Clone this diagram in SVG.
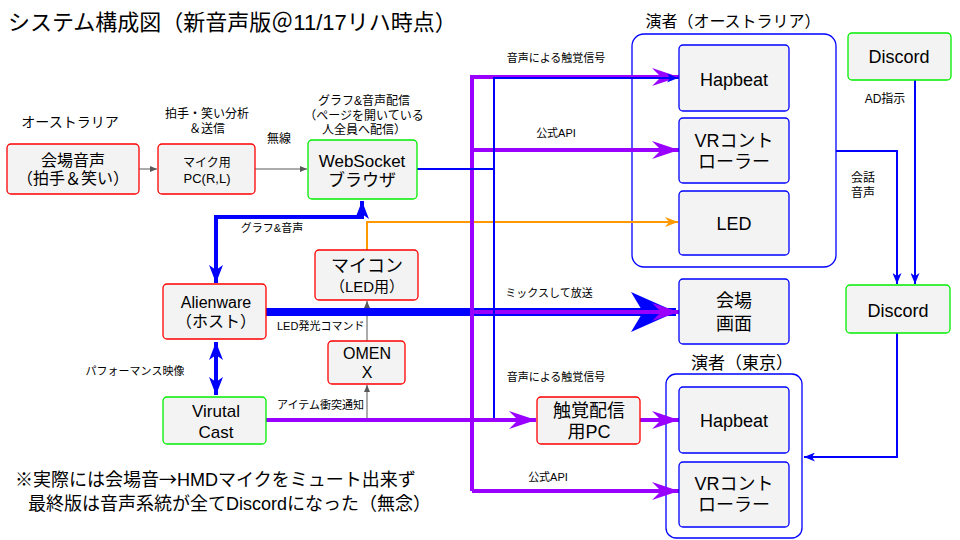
<svg xmlns="http://www.w3.org/2000/svg" width="960" height="540" viewBox="0 0 960 540">
<style>
text{font-family:"Liberation Sans","Noto Sans CJK JP",sans-serif;fill:#000;text-anchor:middle}
.cjk{font-family:"Noto Sans CJK JP",sans-serif}
.nr{fill:#f3f3f3;stroke:#ff0000;stroke-width:1.3}
.ng{fill:#f3f3f3;stroke:#00ee00;stroke-width:1.3}
.nb{fill:#f3f3f3;stroke:#0000ff;stroke-width:1.3}
.grp{fill:#fff;stroke:#0000ff;stroke-width:1.3}
.lbl{font-size:11px}
.lt{text-anchor:start}
.gray{fill:none;stroke:#595959;stroke-width:1}
.pur{fill:none;stroke:#9900ff;stroke-width:4}
.bt{fill:none;stroke:#0000ff;stroke-width:2}
.bk{fill:none;stroke:#0000ff;stroke-width:4}
.org{fill:none;stroke:#ff9900;stroke-width:2}
</style>
<defs>
<marker id="mg" markerUnits="userSpaceOnUse" markerWidth="8" markerHeight="6" refX="7" refY="3" orient="auto"><path d="M0,0 L7,3 L0,6 z" fill="#595959"/></marker>
<marker id="mp" markerUnits="userSpaceOnUse" markerWidth="28" markerHeight="18" refX="27" refY="9" orient="auto"><path d="M0,0 L27,9 L0,18 L9,9 z" fill="#9900ff"/></marker>
<marker id="mbt" markerUnits="userSpaceOnUse" markerWidth="12" markerHeight="9" refX="11" refY="4.5" orient="auto-start-reverse"><path d="M0,0 L11,4.5 L0,9 L3,4.5 z" fill="#0000ff"/></marker>
<marker id="mbk" markerUnits="userSpaceOnUse" markerWidth="19" markerHeight="14" refX="18" refY="7" orient="auto-start-reverse"><path d="M0,0 L18,7 L0,14 L5,7 z" fill="#0000ff"/></marker>
<marker id="mbig" markerUnits="userSpaceOnUse" markerWidth="46" markerHeight="40" refX="45" refY="20" orient="auto"><path d="M0,0 L45,20 L0,40 L12,20 z" fill="#0000ff"/></marker>
<marker id="mo" markerUnits="userSpaceOnUse" markerWidth="14" markerHeight="10" refX="13" refY="5" orient="auto"><path d="M0,0 L13,5 L0,10 L4,5 z" fill="#ff9900"/></marker>
</defs>

<text x="8" y="30" style="font-size:22px;text-anchor:start">システム構成図（新音声版＠11/17リハ時点）</text>

<!-- containers -->
<g id="performers-au">
<rect class="grp" x="632" y="34" width="204" height="233" rx="12"/>
<text x="733" y="27" style="font-size:16px">演者（オーストラリア）</text>
</g>
<g id="performers-tokyo">
<rect class="grp" x="666" y="374" width="136" height="164" rx="10"/>
<text x="742" y="369" style="font-size:17px">演者（東京）</text>
</g>

<!-- connectors -->
<g id="connectors">
<path class="gray" d="M139,169 H157" marker-end="url(#mg)"/>
<path class="gray" d="M255,169 H307" marker-end="url(#mg)"/>
<path class="gray" d="M367,420 V385" marker-end="url(#mg)"/>
<path class="gray" d="M367,341 V301" marker-end="url(#mg)"/>
<path class="org" d="M367,250 V222 H678" marker-end="url(#mo)"/>
<path class="bk" d="M362,201 V217 H216 V283" marker-start="url(#mbk)" marker-end="url(#mbk)"/>
<path class="bk" d="M216,342 V395" marker-start="url(#mbk)" marker-end="url(#mbk)"/>
<path d="M266,312 H676" fill="none" stroke="#0000ff" stroke-width="8" marker-end="url(#mbig)"/>
<path class="pur" d="M266,420 H536" marker-end="url(#mp)"/>
<path class="pur" d="M472,491 V77 H679" marker-end="url(#mp)"/>
<path class="pur" d="M472,150 H679" marker-end="url(#mp)"/>
<path class="pur" d="M472,312 H679" marker-end="url(#mp)"/>
<path class="pur" d="M472,491 H679" marker-end="url(#mp)"/>
<path class="pur" d="M640,420 H679" marker-end="url(#mp)"/>
<path class="bt" d="M417,169 H494 V418"/>
<path class="bt" d="M494,169 V78 H678" marker-end="url(#mbt)"/>
<path class="bt" d="M915,80 V284" marker-end="url(#mbt)"/>
<path class="bt" d="M836,151 H897 V284" marker-end="url(#mbt)"/>
<path class="bt" d="M897,333 V457 H804" marker-end="url(#mbt)"/>
</g>

<!-- labels -->
<text x="70" y="127" style="font-size:14px">オーストラリア</text>
<text x="207" y="118" style="font-size:12px">拍手・笑い分析</text>
<text x="207" y="133" style="font-size:12px">＆送信</text>
<text x="279" y="143" style="font-size:12px">無線</text>
<text x="364" y="105" style="font-size:12px">グラフ&amp;音声配信</text>
<text x="364" y="120" style="font-size:12px">（ページを開いている</text>
<text x="364" y="134" style="font-size:12px">人全員へ配信）</text>
<text class="lbl" x="272" y="232">グラフ&amp;音声</text>
<text class="lbl lt" x="277" y="330">LED発光コマンド</text>
<text class="lbl" x="135" y="375">パフォーマンス映像</text>
<text class="lbl lt" x="277" y="409">アイテム衝突通知</text>
<text class="lbl" x="556" y="62">音声による触覚信号</text>
<text class="lbl" x="556" y="137">公式API</text>
<text class="lbl" x="549" y="297">ミックスして放送</text>
<text class="lbl" x="556" y="381">音声による触覚信号</text>
<text class="lbl" x="548" y="481">公式API</text>
<text x="885" y="103" style="font-size:12px">AD指示</text>
<text x="851" y="182" style="font-size:12px;text-anchor:start">会話</text>
<text x="851" y="197" style="font-size:12px;text-anchor:start">音声</text>
<text x="15" y="486" style="font-size:18px;text-anchor:start">※実際には会場音<tspan class="cjk">→</tspan>HMDマイクをミュート出来ず</text>
<text x="28" y="510" style="font-size:18px;text-anchor:start">最終版は音声系統が全てDiscordになった（無念）</text>

<!-- nodes -->
<g id="venue-audio">
<rect class="nr" x="7" y="144" width="132" height="50" rx="4"/>
<text x="73" y="166" style="font-size:16px">会場音声</text>
<text x="73" y="184" style="font-size:16px">（拍手＆笑い）</text>
</g>
<g id="mic-pc">
<rect class="nr" x="158" y="144" width="97" height="50" rx="4"/>
<text x="207" y="167" style="font-size:12px">マイク用</text>
<text x="207" y="183" style="font-size:13px">PC(R,L)</text>
</g>
<g id="websocket">
<rect class="ng" x="308" y="140" width="109" height="59" rx="4"/>
<text x="362" y="167" style="font-size:17px">WebSocket</text>
<text x="362" y="186" style="font-size:17px">ブラウザ</text>
</g>
<g id="maicon">
<rect class="nr" x="315" y="250" width="103" height="50" rx="4"/>
<text x="367" y="272" style="font-size:18px">マイコン</text>
<text x="367" y="292" style="font-size:15px">（LED用）</text>
</g>
<g id="alienware">
<rect class="nr" x="163" y="284" width="103" height="55" rx="4"/>
<text x="216" y="308" style="font-size:16px">Alienware</text>
<text x="216" y="327" style="font-size:16px">（ホスト）</text>
</g>
<g id="omen">
<rect class="nr" x="328" y="341" width="77" height="43" rx="4"/>
<text x="367" y="359" style="font-size:16px">OMEN</text>
<text x="367" y="378" style="font-size:16px">X</text>
</g>
<g id="virtualcast">
<rect class="ng" x="163" y="397" width="103" height="47" rx="4"/>
<text x="216" y="417" style="font-size:17px">Virutal</text>
<text x="216" y="438" style="font-size:17px">Cast</text>
</g>
<g id="haptic-pc">
<rect class="nr" x="537" y="397" width="103" height="47" rx="4"/>
<text x="589" y="417" style="font-size:18px">触覚配信</text>
<text x="589" y="438" style="font-size:18px">用PC</text>
</g>
<g id="hapbeat-au">
<rect class="nb" x="679" y="45" width="110" height="66" rx="4"/>
<text x="734" y="86" style="font-size:18px">Hapbeat</text>
</g>
<g id="vr-au">
<rect class="nb" x="679" y="118" width="110" height="65" rx="4"/>
<text x="734" y="147" style="font-size:18px">VRコント</text>
<text x="734" y="168" style="font-size:18px">ローラー</text>
</g>
<g id="led">
<rect class="nb" x="679" y="191" width="110" height="64" rx="4"/>
<text x="734" y="230" style="font-size:18px">LED</text>
</g>
<g id="venue-screen">
<rect class="nb" x="679" y="279" width="110" height="65" rx="4"/>
<text x="734" y="307" style="font-size:18px">会場</text>
<text x="734" y="330" style="font-size:18px">画面</text>
</g>
<g id="hapbeat-tokyo">
<rect class="nb" x="679" y="387" width="110" height="66" rx="4"/>
<text x="734" y="427" style="font-size:18px">Hapbeat</text>
</g>
<g id="vr-tokyo">
<rect class="nb" x="679" y="462" width="110" height="65" rx="4"/>
<text x="734" y="490" style="font-size:18px">VRコント</text>
<text x="734" y="511" style="font-size:18px">ローラー</text>
</g>
<g id="discord-top">
<rect class="ng" x="848" y="33" width="103" height="47" rx="4"/>
<text x="899" y="63" style="font-size:18px">Discord</text>
</g>
<g id="discord-bottom">
<rect class="ng" x="846" y="285" width="104" height="48" rx="4"/>
<text x="898" y="317" style="font-size:18px">Discord</text>
</g>
</svg>
